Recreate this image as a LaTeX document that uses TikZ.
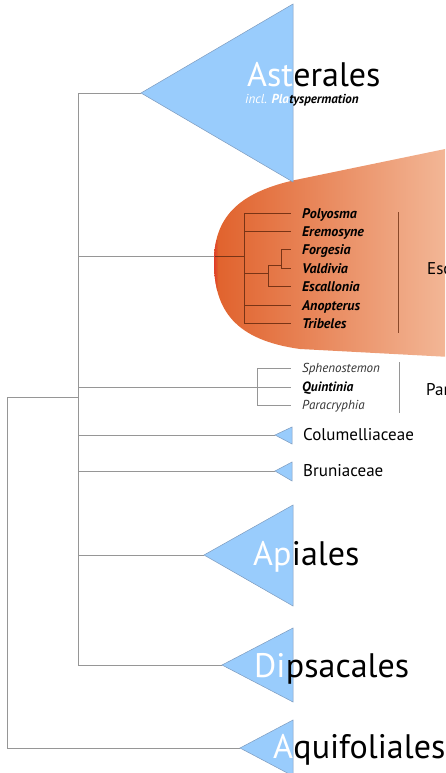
\documentclass[tikz,border=0pt]{standalone}
\usepackage{fontspec}
\setmainfont{PT Sans}
\usetikzlibrary{positioning}

\definecolor{cladeblue}{RGB}{153,204,252}
\definecolor{cladeedge}{RGB}{125,155,190}
\definecolor{branchgray}{RGB}{150,150,150}
\definecolor{escdark}{RGB}{224,96,42}
\definecolor{esclight}{RGB}{243,184,152}
\definecolor{escbranch}{RGB}{120,52,22}
\definecolor{escred}{RGB}{225,40,40}

\tikzset{
  branch/.style={draw=branchgray, line width=0.8pt},
  escline/.style={draw=escbranch, line width=0.8pt},
  cladetri/.style={fill=cladeblue, draw=cladeedge, line width=0.5pt},
  orderlabel/.style={font=\fontsize{34}{34}\selectfont, anchor=base west, inner sep=0pt},
  famlabel/.style={font=\fontsize{17}{17}\selectfont, anchor=base west, inner sep=0pt},
  genus/.style={font=\fontsize{13}{13}\selectfont\itshape, anchor=base west, inner sep=0pt, text=black!80},
  genusbold/.style={font=\fontsize{14}{14}\selectfont\bfseries\itshape, anchor=base west, inner sep=0pt},
}

\begin{document}
\begin{tikzpicture}[x=1pt, y=-1pt]
  \useasboundingbox (0,0) rectangle (445,773);
  \clip (0,0) rectangle (445,773);

  % internal nodes and clades
  \coordinate (root) at (7,397);
  \coordinate (core) at (78,397);
  \coordinate (ast) at (141,93);
  \coordinate (esc) at (244,256);
  \coordinate (par) at (257,387);
  \coordinate (col) at (275,435);
  \coordinate (bru) at (275,471);
  \coordinate (api) at (204,555);
  \coordinate (dip) at (222,665);
  \coordinate (aqu) at (240,748);

  % backbone
  \draw[branch] (root) -- (core);
  \draw[branch] (root) |- (aqu);
  \draw[branch] (core) |- (ast);
  \draw[branch] (core) |- (esc);
  \draw[branch] (core) |- (par);
  \draw[branch] (core) |- (col);
  \draw[branch] (core) |- (bru);
  \draw[branch] (core) |- (api);
  \draw[branch] (core) |- (dip);

  % Escalloniales
  \begin{scope}
    \clip (450,148) -- (300,179) .. controls (235,192) and (214,220) .. (214,262)
      .. controls (214,310) and (235,340) .. (300,349) -- (450,357) -- cycle;
    \shade[left color=escdark, right color=esclight] (210,140) rectangle (450,360);
    \shade[left color=escred, right color=escdark, opacity=0.8] (213,240) rectangle (218,290);
  \end{scope}
  \coordinate (escedge) at (215,256);
  \coordinate (escA) at (268,273);
  \coordinate (escB) at (281,265);
  \coordinate (poly) at (291,213);
  \coordinate (erem) at (291,231);
  \coordinate (forg) at (291,249);
  \coordinate (vald) at (291,268);
  \coordinate (escl) at (291,286);
  \coordinate (anop) at (291,305);
  \coordinate (trib) at (291,323);
  \begin{scope}[escline]
    \draw (escedge) -- (esc);
    \draw (esc) |- (poly);
    \draw (esc) |- (erem);
    \draw (esc) |- (escA);
    \draw (esc) |- (anop);
    \draw (esc) |- (trib);
    \draw (escA) |- (escB);
    \draw (escA) |- (escl);
    \draw (escB) |- (forg);
    \draw (escB) |- (vald);
  \end{scope}
  \node[genusbold] (polylab) at (302,218) {Polyosma};
  \node[genusbold] (eremlab) at (302,236) {Eremosyne};
  \node[genusbold] (forglab) at (302,254) {Forgesia};
  \node[genusbold] (valdlab) at (302,273) {Valdivia};
  \node[genusbold] (escllab) at (302,291) {Escallonia};
  \node[genusbold] (anoplab) at (302,310) {Anopterus};
  \node[genusbold] (triblab) at (302,328) {Tribeles};
  \coordinate (escbartop) at (398,212);
  \coordinate (escbarbot) at (398,333);
  \draw[escline, draw=escbranch!85!esclight] (escbartop) -- (escbarbot);
  \node[famlabel] (esclab) at (427,274) {Escalloniales};

  % Paracryphiales
  \coordinate (sphe) at (291,368);
  \coordinate (quin) at (291,387);
  \coordinate (parc) at (291,405);
  \draw[branch] (par) |- (sphe);
  \draw[branch] (par) -- (quin);
  \draw[branch] (par) |- (parc);
  \node[genus] (sphelab) at (302,372) {Sphenostemon};
  \node[genusbold, font=\fontsize{13.5}{13.5}\selectfont\bfseries\itshape] (quinlab) at (302,391) {Quintinia};
  \node[genus] (parclab) at (302,409) {Paracryphia};
  \coordinate (parbartop) at (399,362);
  \coordinate (parbarbot) at (399,413);
  \draw[branch] (parbartop) -- (parbarbot);
  \node[famlabel] (parlab) at (426,395) {Paracryphiales};

  % collapsed clades
  \draw[cladetri] (ast) -- (293,4) -- (293,182) -- cycle;
  \draw[cladetri] (col) -- (292,427) -- (292,444) -- cycle;
  \draw[cladetri] (bru) -- (292,462) -- (292,481) -- cycle;
  \draw[cladetri] (api) -- (293,505) -- (293,606) -- cycle;
  \draw[cladetri] (dip) -- (293,628) -- (293,702) -- cycle;
  \draw[cladetri] (aqu) -- (293,720) -- (293,776) -- cycle;

  % clade labels
  \node[orderlabel, text=white] (astw) at (247,87) {Ast};
  \node[orderlabel] (astb) at (astw.base east) {erales};
  \node[genus, text=white, font=\fontsize{13}{13}\selectfont] (inclw) at (245,104)
    {\itshape incl. \bfseries Pla};
  \node[genusbold, text=black, font=\fontsize{13}{13}\selectfont\bfseries\itshape] (inclb)
    at (inclw.base east) {tyspermation};
  \node[famlabel] (collab) at (303,440) {Columelliaceae};
  \node[famlabel] (brulab) at (303,476) {Bruniaceae};
  \node[orderlabel, text=white] (apiw) at (253,565) {Ap};
  \node[orderlabel] (apib) at (apiw.base east) {iales};
  \node[orderlabel, text=white] (dipw) at (254,677) {Di};
  \node[orderlabel] (dipb) at (dipw.base east) {psacales};
  \node[orderlabel, text=white] (aquw) at (273,758) {A};
  \node[orderlabel] (aqub) at (aquw.base east) {quifoliales};
\end{tikzpicture}
\end{document}
